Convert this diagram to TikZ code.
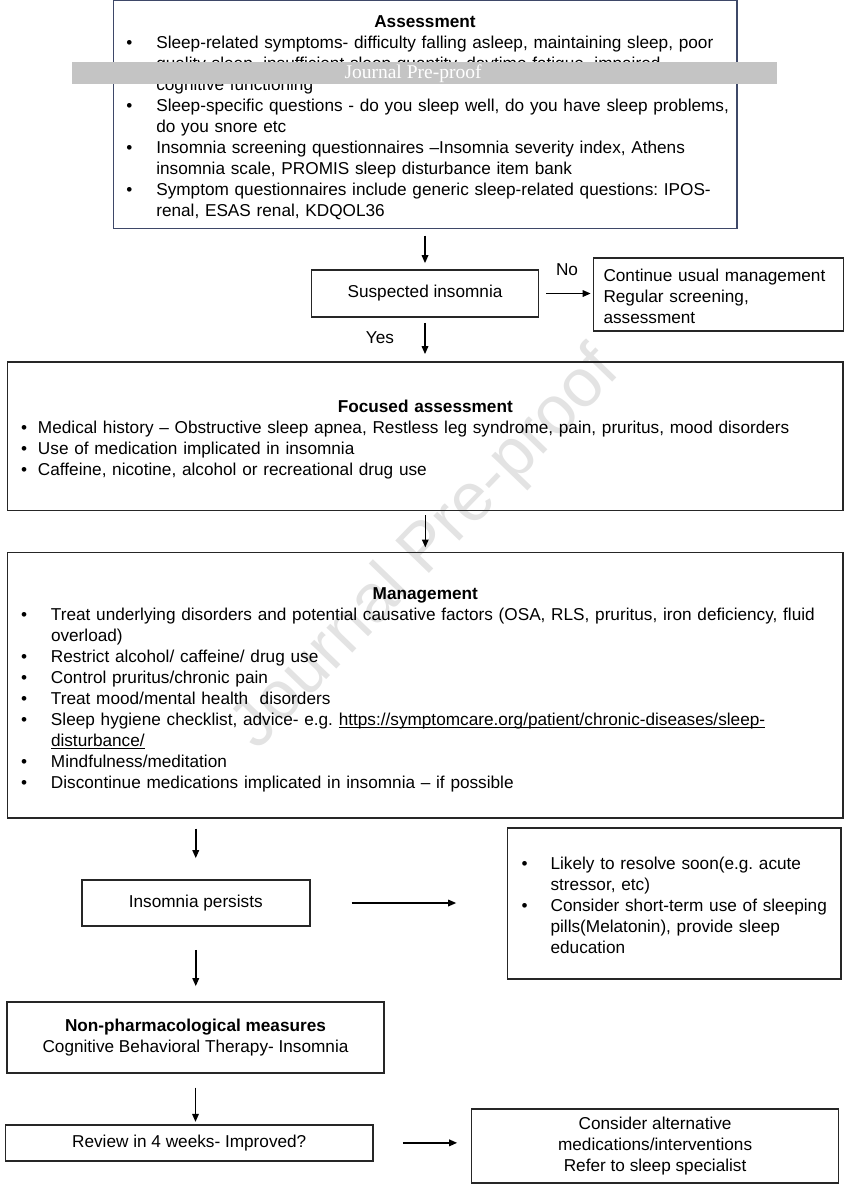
\documentclass[tikz,border=0pt]{standalone}
\usepackage{fontspec}
\setmainfont{Liberation Sans}
\newfontfamily\jpfont{Liberation Serif}
\usetikzlibrary{arrows.meta}
\definecolor{navy}{RGB}{62,72,104}
\frenchspacing
\hyphenpenalty=10000
\newcommand{\bul}[2]{\par\noindent\hangindent=#1\hangafter=1\makebox[#1][l]{\textbullet}#2\par}
\newcommand{\link}[1]{\setbox0\hbox{#1}\rlap{\rule[-2.2pt]{\wd0}{0.9pt}}\box0}
\newcommand{\up}[1]{\rule{0pt}{#1}}

\begin{document}
\begin{tikzpicture}[x=1pt,y=-1pt,
  font=\fontsize{17.2}{21}\selectfont,
  box/.style={draw=black!85,line width=1.6pt,inner sep=0pt},
  arr/.style={-{Triangle[length=8pt,width=6.5pt]},line width=1.6pt}]
  \useasboundingbox (0,0) rectangle (855,1200);
  \node[rotate=46,text=black!11,font=\fontsize{68}{68}\selectfont] (wm) at (427,550) {Journal Pre-proof};

  \node[box,draw=navy,inner xsep=13pt,text width=597.4pt,minimum height=227.8pt,align=left] (A) at (425,114.4) {%
    {\centering\bfseries\up{18.4pt}Assessment\par}
    \bul{30pt}{Sleep-related symptoms- difficulty falling asleep, maintaining sleep, poor\newline quality sleep, insufficient sleep quantity, daytime fatigue, impaired\newline cognitive functioning}
    \bul{30pt}{\mbox{Sleep-specific questions - do you sleep well, do you have sleep problems,}\newline do you snore etc}
    \bul{30pt}{Insomnia screening questionnaires –Insomnia severity index, Athens\newline insomnia scale, PROMIS sleep disturbance item bank}
    \bul{30pt}{Symptom questionnaires include generic sleep-related questions: IPOS-\newline renal, ESAS renal, KDQOL36}};
  \node[box,minimum width=227pt,minimum height=47pt] (S) at (425,293.5) {Suspected insomnia};
  \node[box,inner xsep=10pt,text width=230pt,minimum height=73pt,align=left] (C) at (718.5,294.2)
    {\up{16.4pt}Continue usual management\newline Regular screening,\newline assessment};
  \node (no) at (567,270) {No};
  \node (yes) at (380,338) {Yes};
  \node[box,inner xsep=13.4pt,text width=808.6pt,minimum height=148.7pt,align=left] (F) at (425.3,436.3) {%
    {\centering\bfseries\up{18.4pt}Focused assessment\par}
    \bul{17pt}{Medical history – Obstructive sleep apnea, Restless leg syndrome, pain, pruritus, mood disorders}
    \bul{17pt}{Use of medication implicated in insomnia}
    \bul{17pt}{Caffeine, nicotine, alcohol or recreational drug use}};
  \node[box,inner xsep=13.4pt,text width=808.6pt,minimum height=265.4pt,align=left] (M) at (425.3,685) {%
    {\centering\bfseries\up{21.4pt}Management\par}
    \bul{30pt}{Treat underlying disorders and potential causative factors (OSA, RLS, pruritus, iron deficiency, fluid\newline overload)}
    \bul{30pt}{Restrict alcohol/ caffeine/ drug use}
    \bul{30pt}{Control pruritus/chronic pain}
    \bul{30pt}{Treat mood/mental health~ disorders}
    \bul{30pt}{Sleep hygiene checklist, advice- e.g. \link{https://symptomcare.org/patient/chronic-diseases/sleep-}\newline \link{disturbance/}}
    \bul{30pt}{Mindfulness/meditation}
    \bul{30pt}{Discontinue medications implicated in insomnia – if possible}};
  \node[box,minimum width=228pt,minimum height=46pt] (P) at (195.75,903) {Insomnia persists};
  \node[box,inner xsep=14pt,text width=305.2pt,minimum height=151.3pt,align=left] (L) at (674.2,903.35) {%
    \bul{29pt}{Likely to resolve soon(e.g. acute\newline stressor, etc)}
    \bul{29pt}{\mbox{Consider short-term use of sleeping}\newline pills(Melatonin), provide sleep\newline education\rule[-5pt]{0pt}{5pt}}};
  \node[box,minimum width=377pt,minimum height=71pt,align=center] (N) at (195.5,1037.5)
    {\textbf{Non-pharmacological measures}\\Cognitive Behavioral Therapy- Insomnia};
  \node[box,minimum width=367.5pt,minimum height=35.7pt] (R) at (189.25,1142.85) {Review in 4 weeks- Improved?};
  \node[box,minimum width=367pt,minimum height=73.7pt,align=center] (X) at (655.1,1145.85)
    {Consider alternative\\medications/interventions\\Refer to sleep specialist};

  \draw[arr,shorten <=6.5pt,shorten >=6pt] (A.south) -- (A.south |- S.north);
  \draw[arr,shorten <=7pt,shorten >=2pt] (S.east) -- (S.east -| C.west);
  \draw[arr,shorten <=5pt,shorten >=7pt] (S.south) -- (S.south |- F.north);
  \draw[arr,shorten <=4pt,shorten >=4pt] (F.south) -- (F.south |- M.north);
  \draw[arr,shorten <=10pt,shorten >=21pt] (M.south -| P.north) -- (P.north);
  \draw[arr,shorten <=41pt,shorten >=50.6pt] (P.east) -- (P.east -| L.west);
  \draw[arr,shorten <=23pt,shorten >=15pt] (P.south) -- (P.south |- N.north);
  \draw[arr,shorten <=13.7pt,shorten >=2.3pt] (N.south) -- (N.south |- R.north);
  \draw[arr,shorten <=29pt,shorten >=13.6pt] (R.east) -- (R.east -| X.west);

  \fill[black!23] (71.7,62.3) rectangle (777,84);
  \node[text=white,font=\jpfont\fontsize{19.5}{20}\selectfont] (jp) at (413,73.5) {Journal Pre-proof};
\end{tikzpicture}
\end{document}
